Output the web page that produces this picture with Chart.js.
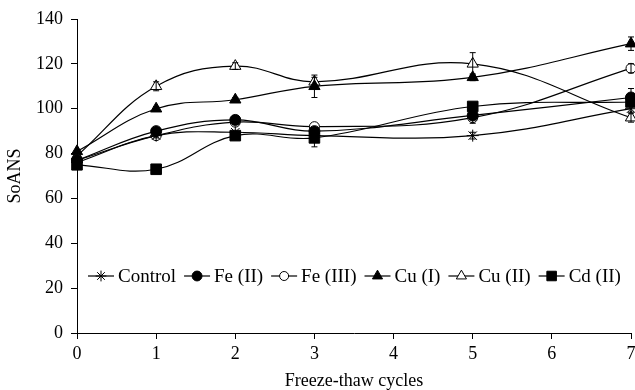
<!DOCTYPE html>
<html>
<head>
<meta charset="utf-8">
<script src="https://cdn.jsdelivr.net/npm/chart.js@4.4.0/dist/chart.umd.min.js"></script>
<style>
  html, body { margin: 0; padding: 0; background: #fff; }
</style>
</head>
<body>
<canvas id="chart" width="635" height="390"></canvas>
<script>
// freeze-thaw cycles that were measured
const cycles = [0, 1, 2, 3, 5, 7]
const seriesNames = ['Control', 'Fe (II)', 'Fe (III)', 'Cu (I)', 'Cu (II)', 'Cd (II)']

const control = [76, 88, 89.5, 88, 88, 100]
const fe2 = [77, 90, 95, 90, 97, 105]
const fe3 = [77, 88, 94, 92, 96, 118]
const cu1 = [81, 100, 104, 110, 114, 129]
const cu2 = [79, 110, 119, 112, 120, 96]
const cd2 = [75, 73, 88, 87, 101, 103]

// standard deviations (0 = no bar visible)
const controlErr = [0, 1, 0, 0, 1.5, 1.5]
const fe2Err = [0, 0, 2, 0, 3.5, 4]
const fe3Err = [0, 0, 1, 0, 0, 2]
const cu1Err = [0, 1, 1, 5, 1.5, 3]
const cu2Err = [0, 2, 1.5, 2, 5, 2]
const cd2Err = [0, 0, 0, 4, 0, 1]

const yTicks = [0, 20, 40, 60, 80, 100, 120, 140]

const serif = 'Liberation Serif'

const styles = [
    { pointStyle: 'star', radius: 6, fill: '#000' },
    { pointStyle: 'circle', radius: 5.5, fill: '#000' },
    { pointStyle: 'circle', radius: 5, fill: '#fff' },
    { pointStyle: 'triangle', radius: 6.5, fill: '#000' },
    { pointStyle: 'triangle', radius: 6.5, fill: '#fff' },
    { pointStyle: 'rect', radius: 7.5, fill: '#000' },
]

const allValues = [control, fe2, fe3, cu1, cu2, cd2]
const allErrors = [controlErr, fe2Err, fe3Err, cu1Err, cu2Err, cd2Err]

let datasets = []
for (let i = 0; i < seriesNames.length; i++) {
    datasets.push({
        label: seriesNames[i],
        data: cycles.map((c, k) => ({ x: c, y: allValues[i][k] })),
        errors: allErrors[i],
        borderColor: '#000',
        borderWidth: 1.2,
        backgroundColor: styles[i].fill,
        pointStyle: styles[i].pointStyle,
        pointRadius: styles[i].radius,
        pointBorderColor: '#000',
        pointBackgroundColor: styles[i].fill,
        pointBorderWidth: 1,
        tension: 0.4,
        fill: false,
        clip: false,
    })
}

const errorBars = {
    id: 'errorBars',
    afterDatasetsDraw(chart) {
        const ctx = chart.ctx
        const x = chart.scales.x
        const y = chart.scales.y
        ctx.save()
        ctx.strokeStyle = '#000'
        ctx.lineWidth = 1
        chart.data.datasets.forEach(ds => {
            ds.data.forEach((p, k) => {
                const e = ds.errors[k]
                if (!e) return
                const px = x.getPixelForValue(p.x)
                const top = y.getPixelForValue(p.y + e)
                const bot = y.getPixelForValue(p.y - e)
                ctx.beginPath()
                ctx.moveTo(px, top); ctx.lineTo(px, bot)
                ctx.moveTo(px - 3, top); ctx.lineTo(px + 3, top)
                ctx.moveTo(px - 3, bot); ctx.lineTo(px + 3, bot)
                ctx.stroke()
            })
        })
        ctx.restore()
    }
}

// legend drawn inside the plot, one row, line + marker + label
const inlineLegend = {
    id: 'inlineLegend',
    afterDraw(chart) {
        const ctx = chart.ctx
        const yPos = 276
        let xPos = 88
        ctx.save()
        ctx.font = `19px "${serif}"`
        ctx.textBaseline = 'middle'
        chart.data.datasets.forEach((ds, i) => {
            ctx.strokeStyle = '#000'
            ctx.lineWidth = 1.2
            ctx.beginPath()
            ctx.moveTo(xPos, yPos); ctx.lineTo(xPos + 26, yPos)
            ctx.stroke()
            ctx.fillStyle = styles[i].fill
            ctx.lineWidth = 1
            Chart.helpers.drawPoint(ctx, {
                pointStyle: styles[i].pointStyle,
                radius: styles[i].radius * 0.9,
                rotation: 0,
                borderWidth: 1
            }, xPos + 13, yPos)
            ctx.fillStyle = '#000'
            ctx.fillText(ds.label, xPos + 30, yPos + 1)
            xPos += 30 + ctx.measureText(ds.label).width + 8
        })
        ctx.restore()
    }
}

const noPadding = () => ({ left: 0, top: 0, right: 0, bottom: 0 })

new Chart(document.getElementById('chart').getContext('2d'), {
    type: 'line',
    data: { datasets: datasets },
    plugins: [errorBars, inlineLegend],
    options: {
        responsive: false,
        animation: false,
        layout: { autoPadding: false, padding: { top: 19, right: 4, left: 0, bottom: -2 } },
        plugins: {
            legend: { display: false },
            tooltip: { enabled: false },
        },
        scales: {
            x: {
                type: 'linear',
                min: 0,
                max: 7,
                afterFit: (scale) => {
                    scale.height = 59
                    scale.getPadding = noPadding
                },
                ticks: {
                    stepSize: 1,
                    color: '#000',
                    padding: 4,
                    maxRotation: 0,
                    font: { family: serif, size: 18 },
                },
                grid: { drawOnChartArea: false, drawTicks: true, tickLength: 6, color: '#000' },
                border: { color: '#000', width: 1 },
                title: {
                    display: true,
                    text: 'Freeze-thaw cycles',
                    color: '#000',
                    padding: { top: 2, bottom: 0 },
                    font: { family: serif, size: 18 },
                },
            },
            y: {
                min: 0,
                max: 140,
                afterFit: (scale) => {
                    scale.width = 77
                    scale.getPadding = noPadding
                },
                afterBuildTicks: (scale) => { scale.ticks = yTicks.map(v => ({ value: v })) },
                ticks: {
                    color: '#000',
                    padding: 8,
                    font: { family: serif, size: 18 },
                },
                grid: { drawOnChartArea: false, drawTicks: true, tickLength: 6, color: '#000' },
                border: { color: '#000', width: 1 },
                title: {
                    display: true,
                    text: 'SoANS',
                    color: '#000',
                    padding: { top: 4, bottom: 0 },
                    font: { family: serif, size: 18 },
                },
            },
        },
    },
})
</script>
</body>
</html>
